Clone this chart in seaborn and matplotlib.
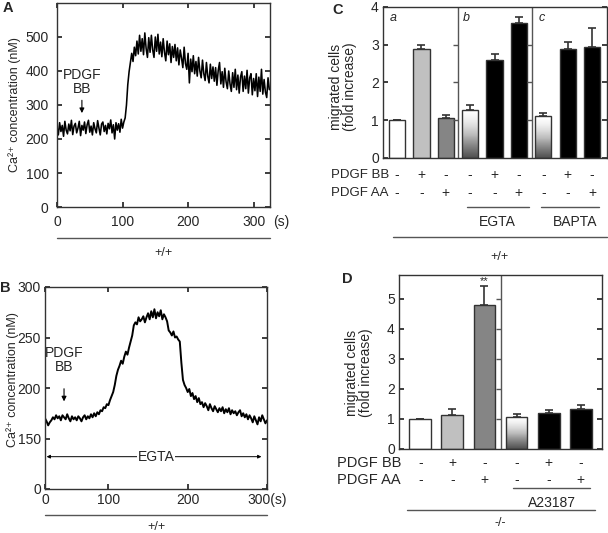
import numpy as np
import matplotlib
matplotlib.use('Agg')
import matplotlib.pyplot as plt
import seaborn as sns

sns.set_theme(style='ticks', rc={'xtick.direction': 'in', 'ytick.direction': 'in',
                                 'xtick.major.size': 3.5, 'ytick.major.size': 3.5,
                                 'axes.edgecolor': '#333333', 'axes.linewidth': 1.0})
plt.rcParams['font.family'] = ['Liberation Sans', 'DejaVu Sans']
plt.rcParams['font.size'] = 10

# --- data ---------------------------------------------------------------
# panel A: Ca2+ trace, +/+ cells, one sample every 2 s (0..324 s)
time_a = np.arange(0, 326, 2)
ca_a = [235, 212, 248, 222, 240, 208, 252, 226, 215, 244,
        224, 255, 213, 238, 246, 218, 232, 252, 210, 240,
        226, 250, 216, 242, 255, 220, 238, 212, 248, 230,
        218, 254, 232, 212, 244, 250, 222, 240, 215, 246,
        230, 256, 218, 242, 200, 248, 226, 245, 220, 258,
        232, 250, 262, 300, 360, 398, 425, 452, 428, 470,
        445, 488, 450, 505, 458, 495, 448, 512, 466, 440,
        498, 455, 505, 462, 440, 500, 458, 508, 450, 485,
        442, 495, 455, 430, 488, 448, 480, 425, 472, 440,
        478, 430, 468, 418, 462, 438, 410, 470, 422, 405,
        452, 365, 435, 398, 445, 392, 428, 385, 440, 400,
        380, 432, 392, 372, 425, 385, 365, 420, 378, 412,
        370, 410, 358, 402, 425, 362, 398, 352, 408, 368,
        348, 400, 362, 340, 395, 352, 405, 345, 388, 335,
        382, 398, 340, 385, 348, 402, 335, 380, 392, 330,
        378, 342, 392, 325, 382, 340, 405, 332, 375, 338,
        322, 380, 345]

# panel B: Ca2+ trace in EGTA, one sample every 2 s (20..300 s)
time_b = np.arange(20, 302, 2)
ca_b = [170, 167, 163, 166, 168, 171, 169, 173, 170, 172,
        168, 173, 171, 169, 174, 170, 167, 172, 169, 171,
        168, 172, 170, 167, 171, 173, 169, 172, 170, 174,
        171, 175, 172, 176, 174, 178, 177, 181, 180, 184,
        183, 188, 192, 196, 203, 212, 218, 222, 227, 224,
        231, 236, 233, 240, 246, 252, 262, 265, 263, 270,
        266, 268, 271, 265, 270, 274, 268, 276, 270, 278,
        269, 275, 271, 277, 268, 273, 270, 266, 257, 255,
        252, 256, 250, 251, 248, 246, 225, 208, 203, 200,
        196, 199, 192, 195, 189, 192, 186, 190, 184, 186,
        181, 185, 182, 178, 184, 180, 177, 182, 179, 176,
        180, 177, 181, 175, 179, 176, 180, 174, 178, 175,
        177, 173, 176, 178, 172, 175, 171, 174, 169, 173,
        170, 166, 172, 168, 164, 171, 167, 173, 169, 165,
        168]

# panel C: migration, +/+ cells
cond_c = ['c1', 'c2', 'c3', 'c4', 'c5', 'c6', 'c7', 'c8', 'c9']
fold_c = [1.0, 2.9, 1.05, 1.28, 2.6, 3.58, 1.1, 2.9, 2.95]
err_c = [0.0, 0.1, 0.08, 0.13, 0.15, 0.15, 0.08, 0.18, 0.5]
bb_c = ['-', '+', '-', '-', '+', '-', '-', '+', '-']
aa_c = ['-', '-', '+', '-', '-', '+', '-', '-', '+']
colors_c = ['white', '#c0c0c0', '#858585', 'white', 'black', 'black', 'white', 'black', 'black']
grad_c = [3, 6]

# panel D: migration, -/- cells
cond_d = ['d1', 'd2', 'd3', 'd4', 'd5', 'd6']
fold_d = [1.0, 1.13, 4.8, 1.07, 1.2, 1.33]
err_d = [0.0, 0.2, 0.62, 0.11, 0.1, 0.13]
bb_d = ['-', '+', '-', '-', '+', '-']
aa_d = ['-', '-', '+', '-', '-', '+']
colors_d = ['white', '#c0c0c0', '#858585', 'white', 'black', 'black']
grad_d = [3]

W, H = 608, 533
fig = plt.figure(figsize=(W / 100, H / 100), dpi=100)


def fx(px):
    return px / W


def fy(py):
    return 1 - py / H


def box(l, t, r, b):
    return [fx(l), fy(b), fx(r) - fx(l), fy(t) - fy(b)]


axA = fig.add_axes(box(57, 3, 270, 207))
axB = fig.add_axes(box(45, 287, 267, 489))
axC = fig.add_axes(box(383, 7, 607, 158))
axD = fig.add_axes(box(399, 275, 602, 449))

line_col = '#555555'
ca_label = 'Ca\u00b2\u207a concentration (nM)'

# ---- A ----
sns.lineplot(x=time_a, y=ca_a, ax=axA, color='black', linewidth=1.15)
axA.set_xlim(0, 325)
axA.set_ylim(0, 600)
axA.set_yticks([0, 100, 200, 300, 400, 500])
axA.set_xticks([0, 100, 200, 300])
axA.tick_params(top=True, right=True, labelsize=10, pad=6)
axA.set_xlabel('')
axA.set_ylabel(ca_label, fontsize=9)
axA.yaxis.set_label_coords(-0.17, 0.5)
axA.text(1.055, -0.075, '(s)', transform=axA.transAxes, ha='center', va='center', fontsize=10)
axA.annotate('', xy=(38, 268), xytext=(38, 322),
             arrowprops=dict(arrowstyle='-|>', color='black', lw=0.8, mutation_scale=7))
axA.text(39, 368, 'PDGF\nBB', ha='center', va='center', fontsize=10, linespacing=1.0)
axA.plot([0, 1], [-0.152, -0.152], transform=axA.transAxes, clip_on=False, color=line_col, lw=1)
axA.text(0.5, -0.225, '+/+', transform=axA.transAxes, ha='center', va='center', fontsize=9)

# ---- B ----
sns.lineplot(x=time_b, y=ca_b, ax=axB, color='black', linewidth=1.4)
axB.set_xlim(20, 300)
axB.set_ylim(100, 300)
axB.set_xticks([20, 100, 200, 300], ['0', '100', '200', '300(s)'])
axB.set_yticks([100, 150, 200, 250, 300], ['0', '150', '200', '250', '300'])
axB.tick_params(top=True, right=True, labelsize=10, pad=3)
axB.set_xlabel('')
axB.set_ylabel(ca_label, fontsize=9)
axB.yaxis.set_label_coords(-0.115, 0.54)
axB.annotate('', xy=(44, 184), xytext=(44, 202),
             arrowprops=dict(arrowstyle='-|>', color='black', lw=0.8, mutation_scale=7))
axB.text(44, 228, 'PDGF\nBB', ha='center', va='center', fontsize=10, linespacing=1.0)
axB.annotate('', xy=(22, 132), xytext=(293, 132),
             arrowprops=dict(arrowstyle='<|-|>', color='black', lw=0.7, mutation_scale=5,
                             shrinkA=0, shrinkB=0))
axB.text(160, 132, 'EGTA', ha='center', va='center', fontsize=10,
         bbox=dict(facecolor='white', edgecolor='none', pad=0.5))
axB.plot([0, 1], [-0.129, -0.129], transform=axB.transAxes, clip_on=False, color=line_col, lw=1)
axB.text(0.5, -0.19, '+/+', transform=axB.transAxes, ha='center', va='center', fontsize=9)


def bars(ax, conds, vals, errs, cols, grads, width):
    sns.barplot(x=conds, y=vals, hue=conds, palette=cols, legend=False, width=width,
                edgecolor='#333333', linewidth=1.0, ax=ax, errorbar=None)
    pos = np.arange(len(conds))
    ax.errorbar(pos, vals, yerr=[np.zeros(len(errs)), errs], fmt='none', ecolor='#333333',
                elinewidth=1.2, capsize=3, capthick=1.2, zorder=1)
    grad = np.linspace(0, 1, 200).reshape(-1, 1)
    for i in grads:
        p = ax.patches[i]
        x0, y0, w, h = p.get_x(), p.get_y(), p.get_width(), p.get_height()
        im = ax.imshow(grad, extent=[x0, x0 + w, y0, y0 + h], origin='lower', cmap='Greys_r',
                       vmin=-0.3, vmax=0.95, aspect='auto', zorder=p.get_zorder() - 0.01)
        im.set_clip_path(p)
        p.set_facecolor('none')
    ax.set_xticks([])
    ax.set_xlabel('')


def signs(ax, row, yy):
    for i, s in enumerate(row):
        ax.text(i, yy, s, transform=ax.get_xaxis_transform(), ha='center', va='center', fontsize=10)


def underline(ax, x0, x1, yy):
    ax.plot([x0, x1], [yy, yy], transform=ax.get_xaxis_transform(), clip_on=False,
            color=line_col, lw=1)


# ---- C ----
bars(axC, cond_c, fold_c, err_c, colors_c, grad_c, 0.66)
axC.set_xlim(-0.58, 8.62)
axC.set_ylim(0, 4)
axC.set_yticks([0, 1, 2, 3, 4])
axC.tick_params(right=True, labelsize=10, pad=3)
for xd in [2.51, 5.55]:
    axC.axvline(xd, color='#555555', lw=1)
    axC.plot([xd] * 3, [1, 2, 3], ls='none', marker=0, ms=3.5, color='#555555')
axC.set_ylabel('migrated cells\n(fold increase)', fontsize=10, linespacing=1.0)
axC.yaxis.set_label_coords(-0.115, 0.47)
axC.text(-0.3, 3.72, 'a', style='italic', fontsize=9, va='center')
axC.text(2.7, 3.72, 'b', style='italic', fontsize=9, va='center')
axC.text(5.8, 3.72, 'c', style='italic', fontsize=9, va='center')
signs(axC, bb_c, -0.113)
signs(axC, aa_c, -0.232)
underline(axC, 2.85, 5.4, -0.325)
underline(axC, 5.9, 8.3, -0.325)
axC.text(4.12, -0.424, 'EGTA', transform=axC.get_xaxis_transform(), ha='center', va='center', fontsize=10)
axC.text(7.3, -0.424, 'BAPTA', transform=axC.get_xaxis_transform(), ha='center', va='center', fontsize=10)
axC.plot([0.045, 1.0], [-0.523, -0.523], transform=axC.transAxes, clip_on=False, color=line_col, lw=1)
axC.text(0.52, -0.656, '+/+', transform=axC.transAxes, ha='center', va='center', fontsize=9)
fig.text(fx(331), fy(175), 'PDGF BB', ha='left', va='center', fontsize=9.5)
fig.text(fx(331), fy(193), 'PDGF AA', ha='left', va='center', fontsize=9.5)

# ---- D ----
bars(axD, cond_d, fold_d, err_d, colors_d, grad_d, 0.68)
axD.set_xlim(-0.66, 5.66)
axD.set_ylim(0, 5.8)
axD.set_yticks([0, 1, 2, 3, 4, 5])
axD.tick_params(right=True, labelsize=10, pad=3)
axD.axvline(2.53, color='#555555', lw=1)
axD.plot([2.53] * 5, [1, 2, 3, 4, 5], ls='none', marker=0, ms=3.5, color='#555555')
axD.text(2, fold_d[2] + err_d[2] + 0.17, '**', ha='center', va='center', fontsize=8)
axD.set_ylabel('migrated cells\n(fold increase)', fontsize=10, linespacing=1.0)
axD.yaxis.set_label_coords(-0.13, 0.44)
signs(axD, bb_d, -0.08)
signs(axD, aa_d, -0.178)
underline(axD, 2.9, 5.28, -0.224)
axD.text(4.1, -0.31, 'A23187', transform=axD.get_xaxis_transform(), ha='center', va='center', fontsize=10)
axD.plot([0.04, 0.966], [-0.351, -0.351], transform=axD.transAxes, clip_on=False, color=line_col, lw=1)
axD.text(0.5, -0.425, '-/-', transform=axD.transAxes, ha='center', va='center', fontsize=9)
fig.text(fx(337), fy(463), 'PDGF BB', ha='left', va='center', fontsize=10.5)
fig.text(fx(337), fy(480), 'PDGF AA', ha='left', va='center', fontsize=10.5)

# panel letters
for lx, ly, lt in [(8, 8, 'A'), (5, 288, 'B'), (338, 10, 'C'), (347, 279, 'D')]:
    fig.text(fx(lx), fy(ly), lt, ha='center', va='center', fontsize=10.5, weight='bold')

fig.savefig('out.png', dpi=100)
